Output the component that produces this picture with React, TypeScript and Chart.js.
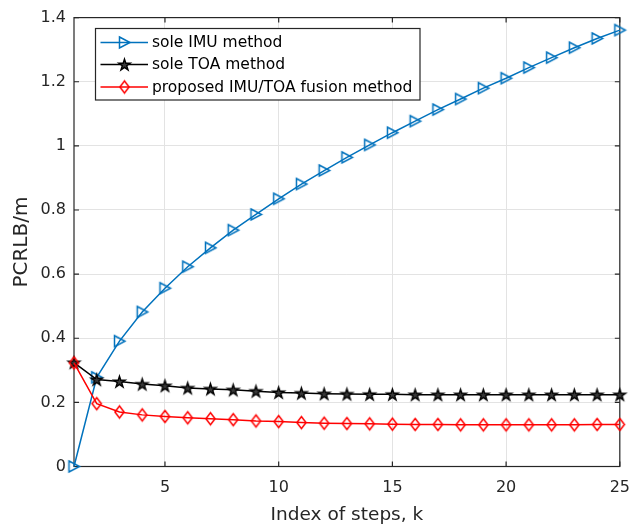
import { useEffect, useRef } from "react";
import { Chart, registerables } from "chart.js";

Chart.register(...registerables);

// Step index k
const steps = [1, 2, 3, 4, 5, 6, 7, 8, 9, 10, 11, 12, 13, 14, 15, 16, 17, 18, 19, 20, 21, 22, 23, 24, 25];

// PCRLB (m) for each method
const soleImu = [
  0, 0.278, 0.391, 0.482, 0.556, 0.623, 0.682, 0.737, 0.786, 0.835, 0.881, 0.923, 0.964,
  1.003, 1.041, 1.077, 1.113, 1.146, 1.18, 1.211, 1.244, 1.275, 1.306, 1.335, 1.361,
];
const soleToa = [
  0.324, 0.271, 0.265, 0.257, 0.252, 0.245, 0.242, 0.239, 0.235, 0.231, 0.229, 0.227, 0.226,
  0.225, 0.225, 0.224, 0.224, 0.224, 0.224, 0.224, 0.224, 0.224, 0.224, 0.224, 0.224,
];
const fusion = [
  0.323, 0.196, 0.17, 0.161, 0.156, 0.152, 0.149, 0.146, 0.142, 0.14, 0.137, 0.135, 0.134,
  0.133, 0.132, 0.131, 0.131, 0.13, 0.13, 0.13, 0.13, 0.13, 0.13, 0.131, 0.131,
];

const seriesLabels = ["sole IMU method", "sole TOA method", "proposed IMU/TOA fusion method"];

// Axis ticks
const xTicks = [5, 10, 15, 20, 25];
const yTicks = [0, 0.2, 0.4, 0.6, 0.8, 1, 1.2, 1.4];

const FONT = "'DejaVu Sans', sans-serif";
const AXIS_COLOR = "#262626";
const GRID_COLOR = "#e3e3e3";
const BLUE = "#0072BD";
const RED = "#FF0000";

type Ctx = CanvasRenderingContext2D;

function makeMarker(draw: (ctx: Ctx) => void, size = 17): HTMLCanvasElement {
  const c = document.createElement("canvas");
  c.width = size;
  c.height = size;
  const ctx = c.getContext("2d") as Ctx;
  ctx.translate(size / 2, size / 2);
  draw(ctx);
  return c;
}

function triangleRight(color: string) {
  return makeMarker((ctx) => {
    ctx.beginPath();
    ctx.moveTo(-5, -5.5);
    ctx.lineTo(5.5, 0);
    ctx.lineTo(-5, 5.5);
    ctx.closePath();
    ctx.strokeStyle = color;
    ctx.lineWidth = 1.5;
    ctx.stroke();
  });
}

function diamond(color: string) {
  return makeMarker((ctx) => {
    ctx.beginPath();
    ctx.moveTo(0, -6);
    ctx.lineTo(4.6, 0);
    ctx.lineTo(0, 6);
    ctx.lineTo(-4.6, 0);
    ctx.closePath();
    ctx.strokeStyle = color;
    ctx.lineWidth = 1.5;
    ctx.stroke();
  });
}

function pentagram(color: string) {
  return makeMarker((ctx) => {
    const R = 6;
    const r = R * 0.382;
    ctx.beginPath();
    for (let i = 0; i < 10; i++) {
      const rad = i % 2 === 0 ? R : r;
      const a = -Math.PI / 2 + (i * Math.PI) / 5;
      const px = rad * Math.cos(a);
      const py = rad * Math.sin(a) + 0.6;
      if (i === 0) ctx.moveTo(px, py);
      else ctx.lineTo(px, py);
    }
    ctx.closePath();
    ctx.fillStyle = "#3a3a3a";
    ctx.fill();
    ctx.strokeStyle = color;
    ctx.lineWidth = 1.4;
    ctx.stroke();
  });
}

// Box around the axes with inward tick marks on all four sides
const framePlugin = {
  id: "frame",
  beforeDatasetsDraw(chart: any) {
    const { ctx, chartArea } = chart;
    const { left, right, top, bottom } = chartArea;
    const xs = chart.scales.x;
    const ys = chart.scales.y;
    const tl = 5;
    ctx.save();
    ctx.strokeStyle = AXIS_COLOR;
    ctx.lineWidth = 1.2;
    ctx.strokeRect(left, top, right - left, bottom - top);
    ctx.beginPath();
    for (const v of xTicks) {
      const px = xs.getPixelForValue(v);
      ctx.moveTo(px, bottom);
      ctx.lineTo(px, bottom - tl);
      ctx.moveTo(px, top);
      ctx.lineTo(px, top + tl);
    }
    for (const v of yTicks) {
      const py = ys.getPixelForValue(v);
      ctx.moveTo(left, py);
      ctx.lineTo(left + tl, py);
      ctx.moveTo(right, py);
      ctx.lineTo(right - tl, py);
    }
    ctx.stroke();
    ctx.restore();
  },
};

// Boxed legend with line + marker samples
const legendPlugin = {
  id: "boxLegend",
  afterDatasetsDraw(chart: any) {
    const { ctx } = chart;
    const x0 = 95.5;
    const y0 = 28.5;
    const w = 324.5;
    const h = 71.5;
    const rowY = [42.5, 64.5, 87];
    const order = [0, 1, 2];
    ctx.save();
    ctx.fillStyle = "#ffffff";
    ctx.fillRect(x0, y0, w, h);
    ctx.strokeStyle = AXIS_COLOR;
    ctx.lineWidth = 1.2;
    ctx.strokeRect(x0, y0, w, h);
    ctx.font = `15.5px ${FONT}`;
    ctx.textBaseline = "middle";
    ctx.textAlign = "left";
    order.forEach((di, i) => {
      const ds = chart.data.datasets[di];
      const y = rowY[i];
      ctx.beginPath();
      ctx.moveTo(100.5, y);
      ctx.lineTo(148, y);
      ctx.strokeStyle = ds.borderColor;
      ctx.lineWidth = 1.5;
      ctx.stroke();
      const img = ds.pointStyle as HTMLCanvasElement;
      ctx.drawImage(img, 124.5 - img.width / 2, y - img.height / 2);
      ctx.fillStyle = "#000000";
      ctx.fillText(ds.label, 152, y + 0.5);
    });
    ctx.restore();
  },
};

export default function App() {
  const canvasRef = useRef<HTMLCanvasElement | null>(null);

  useEffect(() => {
    const canvas = canvasRef.current;
    if (!canvas) return;

    const toPoints = (vals: number[]) => steps.map((k, i) => ({ x: k, y: vals[i] }));

    const chart = new Chart(canvas, {
      type: "line",
      data: {
        datasets: [
          {
            label: seriesLabels[0],
            data: toPoints(soleImu),
            borderColor: BLUE,
            borderWidth: 1.5,
            pointStyle: triangleRight(BLUE),
            clip: false,
            order: 2,
          },
          {
            label: seriesLabels[1],
            data: toPoints(soleToa),
            borderColor: "#000000",
            borderWidth: 1.5,
            pointStyle: pentagram("#000000"),
            clip: false,
            order: 1,
          },
          {
            label: seriesLabels[2],
            data: toPoints(fusion),
            borderColor: RED,
            borderWidth: 1.5,
            pointStyle: diamond(RED),
            clip: false,
            order: 0,
          },
        ] as any,
      },
      options: {
        animation: false,
        responsive: true,
        maintainAspectRatio: false,
        devicePixelRatio: 1,
        layout: { autoPadding: false, padding: { left: 0, right: 20, top: 14, bottom: 0 } },
        elements: { line: { tension: 0, fill: false }, point: { radius: 6 } },
        plugins: { legend: { display: false }, tooltip: { enabled: false } },
        scales: {
          x: {
            type: "linear",
            min: 1,
            max: 25,
            afterBuildTicks: (s: any) => {
              s.ticks = xTicks.map((v) => ({ value: v }));
            },
            afterFit: (s: any) => {
              s.height = 61.5;
            },
            grid: { color: GRID_COLOR, lineWidth: 1, drawTicks: false },
            border: { display: false },
            ticks: {
              autoSkip: false,
              maxRotation: 0,
              padding: 12,
              color: AXIS_COLOR,
              font: { family: FONT, size: 16 },
              callback: (v: any) => String(v),
            },
            title: {
              display: true,
              text: "Index of steps, k",
              color: AXIS_COLOR,
              font: { family: FONT, size: 18.5 },
              padding: { top: 0, bottom: 2 },
            },
          },
          y: {
            type: "linear",
            min: 0,
            max: 1.4,
            afterBuildTicks: (s: any) => {
              s.ticks = yTicks.map((v) => ({ value: v }));
            },
            afterFit: (s: any) => {
              s.width = 74;
            },
            grid: { color: GRID_COLOR, lineWidth: 1, drawTicks: false },
            border: { display: false },
            ticks: {
              autoSkip: false,
              padding: 8,
              color: AXIS_COLOR,
              font: { family: FONT, size: 16 },
              callback: (v: any) => String(Math.round(Number(v) * 10) / 10),
            },
            title: {
              display: true,
              text: "PCRLB/m",
              color: AXIS_COLOR,
              font: { family: FONT, size: 20 },
              padding: { top: 10, bottom: 0 },
            },
          },
        },
      },
      plugins: [framePlugin, legendPlugin],
    });

    return () => chart.destroy();
  }, []);

  return (
    <div style={{ position: "fixed", left: 0, top: 0, width: 642, height: 528, background: "#ffffff" }}>
      <canvas ref={canvasRef} />
    </div>
  );
}
